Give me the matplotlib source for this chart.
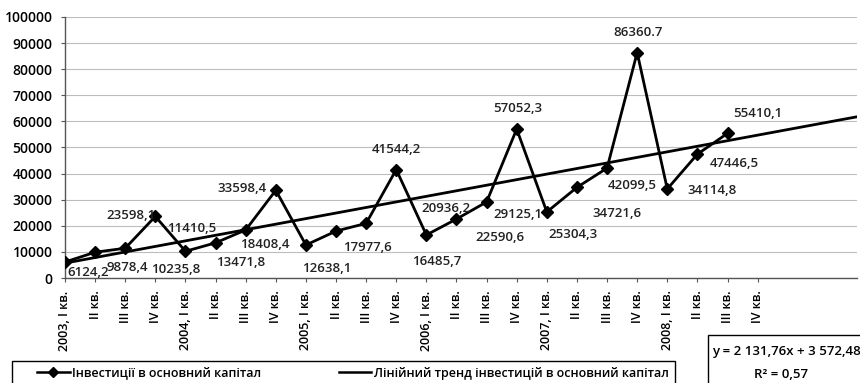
import numpy as np
import matplotlib
matplotlib.use("Agg")
import matplotlib.pyplot as plt
from matplotlib.lines import Line2D

plt.rcParams["font.family"] = ["Open Sans", "DejaVu Sans"]

# квартальні інвестиції в основний капітал, млн грн
categories = [
    "2003, I кв.", "II кв.", "III кв.", "IV кв.",
    "2004, I кв.", "II кв.", "III кв.", "IV кв.",
    "2005, I кв.", "II кв.", "III кв.", "IV кв.",
    "2006, I кв.", "II кв.", "III кв.", "IV кв.",
    "2007, I кв.", "II кв.", "III кв.", "IV кв.",
    "2008, I кв.", "II кв.", "III кв.", "IV кв.",
]
investments = [
    6124.2, 9878.4, 11410.5, 23598.1,
    10235.8, 13471.8, 18408.4, 33598.4,
    12638.1, 17977.6, 20936.2, 41544.2,
    16485.7, 22590.6, 29125.1, 57052.3,
    25304.3, 34721.6, 42099.5, 86360.7,
    34114.8, 47446.5, 55410.1,
]
TREND_SLOPE = 2131.76
TREND_INTERCEPT = 3572.48
TREND_R2 = 0.57

# зсуви підписів (пікселі) відносно точок
label_offsets = [
    (23, -10), (32, -15), (66, 20), (-24, 1),
    (-10, -18), (25, -20), (19, -15), (-34, 2),
    (21, -23), (31, -16), (80, 15), (0, 20),
    (10, -27), (43, -18), (31, -13), (1, 21),
    (26, -23), (40, -26), (25, -17), (1, 20),
    (45, -2), (37, -9), (30, 20),
]

W, H = 860, 383
fig = plt.figure(figsize=(W / 100, H / 100), dpi=100)
ax = fig.add_axes([65 / W, 1 - 278 / H, (857 - 65) / W, (278 - 17) / H])

x = np.arange(1, len(investments) + 1)
ax.plot(x, investments, color="black", lw=2.0, marker="D", ms=6.5,
        label="Інвестиції в основний капітал", zorder=3)

x_end = 27.3
xt = np.array([1, x_end])
ax.plot(xt, TREND_SLOPE * xt + TREND_INTERCEPT, color="black", lw=2.0,
        label="Лінійний тренд інвестицій в основний капітал", zorder=2)

for i, (xi, v) in enumerate(zip(x, investments)):
    txt = f"{v:.1f}".replace(".", ",")
    if v == 86360.7:
        txt = f"{v:.1f}"
    dx, dy = label_offsets[i]
    ax.annotate(txt, (xi, v), xytext=(dx, dy), textcoords="offset pixels",
                ha="center", va="center", fontsize=9.5, fontweight="semibold",
                color="#222222", zorder=4)

ax.set_xlim(1, x_end)
ax.set_ylim(0, 100000)
ax.set_yticks(np.arange(0, 100001, 10000))
ax.set_yticklabels([f"{t:d}" for t in range(0, 100001, 10000)],
                   fontsize=10, fontweight="semibold")
ax.set_xticks(np.arange(1, len(categories) + 1))
ax.set_xticklabels(categories, rotation=90, fontsize=9, fontweight="semibold")
ax.tick_params(axis="y", length=3, pad=6, color="#555555")
ax.tick_params(axis="x", length=3, pad=6, color="#555555")

ax.grid(axis="y", color="#bdbdbd", lw=0.8)
ax.set_axisbelow(True)
for s in ("top", "right"):
    ax.spines[s].set_visible(False)
for s in ("left", "bottom"):
    ax.spines[s].set_color("#555555")
    ax.spines[s].set_linewidth(1.0)

# легенда без рамки + окрема рамка, що виходить за нижній край
handles = [
    Line2D([], [], color="black", lw=1.8, marker="D", ms=5),
    Line2D([], [], color="black", lw=1.8),
]
leg = fig.legend(handles, [h.get_label() for h in ax.get_lines()],
                 loc="center left", bbox_to_anchor=(37 / W, 1 - 373 / H),
                 ncol=2, frameon=False, fontsize=9,
                 handlelength=2.6, handletextpad=0.2, columnspacing=6.2,
                 borderpad=0, borderaxespad=0)
for t in leg.get_texts():
    t.set_fontweight("semibold")
fig.patches.append(plt.Rectangle((12 / W, -0.05), (675 - 12) / W,
                                 1 - 361 / H + 0.05,
                                 transform=fig.transFigure, fill=False,
                                 edgecolor="black", lw=1.0))

slope_s = f"{TREND_SLOPE:,.2f}".replace(",", " ").replace(".", ",")
icpt_s = f"{TREND_INTERCEPT:,.2f}".replace(",", " ").replace(".", ",")
r2_s = f"{TREND_R2:.2f}".replace(".", ",")
fig.text(712 / W, 1 - 352 / H, f"y = {slope_s}x + {icpt_s}",
         ha="left", va="center", fontsize=9.5, fontweight="semibold")
fig.text(781 / W, 1 - 375 / H, f"R² = {r2_s}",
         ha="center", va="center", fontsize=9.5, fontweight="semibold")
fig.patches.append(plt.Rectangle((708 / W, -0.05), 0.3, 1 - 335 / H + 0.05,
                                 transform=fig.transFigure, fill=False,
                                 edgecolor="black", lw=1.0))

fig.savefig("out.png", dpi=100)
